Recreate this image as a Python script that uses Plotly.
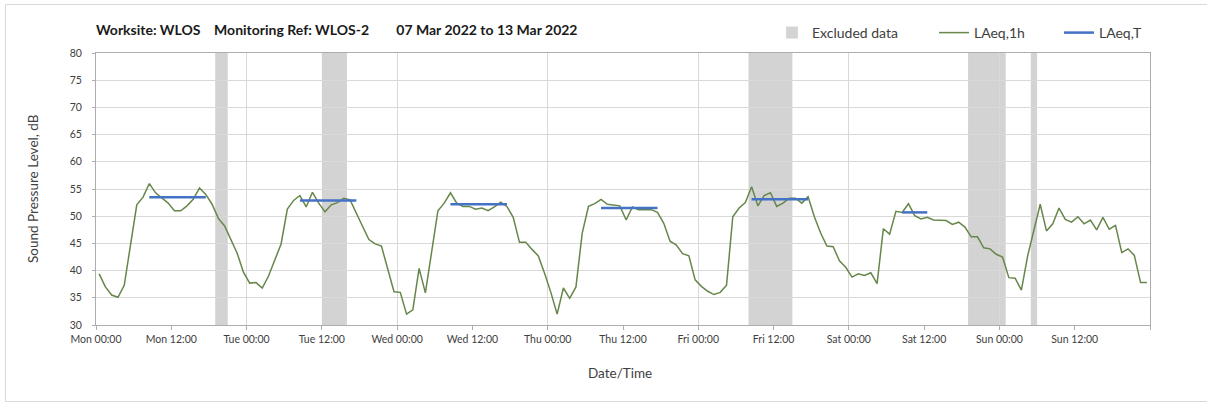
import pandas as pd
import plotly.graph_objects as go

# ---- hourly LAeq,1h values (plotted at the half hour) ----
start_time = "2022-03-07 00:30"
mon = [39.4, 37.0, 35.5, 35.1, 37.3, 45.0, 52.1, 53.5, 56.0, 54.3, 53.3, 52.4,
       51.0, 51.0, 51.9, 53.1, 55.2, 54.0, 52.2, 49.6, 48.2, 45.8, 43.2, 39.7]
tue = [37.7, 37.8, 36.8, 39.0, 41.9, 44.9, 51.3, 52.9, 53.8, 51.7, 54.4, 52.4,
       50.8, 52.1, 52.5, 53.3, 53.0, 50.7, 48.1, 45.7, 44.9, 44.5, 40.4, 36.1]
wed = [36.0, 32.0, 32.8, 40.4, 35.9, 43.5, 51.0, 52.4, 54.3, 52.4, 51.8, 51.8,
       51.3, 51.5, 51.0, 51.7, 52.6, 51.8, 49.8, 45.2, 45.2, 43.9, 42.7, 39.5]
thu = [36.0, 32.0, 36.8, 34.9, 37.0, 46.9, 51.8, 52.3, 53.1, 52.2, 52.0, 51.9,
       49.3, 51.7, 51.2, 51.2, 51.2, 50.7, 48.7, 45.4, 44.7, 43.1, 42.7, 38.3]
fri = [37.1, 36.2, 35.6, 36.0, 37.3, 49.9, 51.5, 52.5, 55.4, 51.9, 53.8, 54.3,
       51.8, 52.4, 53.3, 53.3, 52.4, 53.6, 49.9, 46.9, 44.5, 44.4, 41.8, 40.6]
sat = [38.8, 39.4, 39.1, 39.6, 37.6, 47.7, 46.7, 50.9, 50.7, 52.3, 50.1, 49.5,
       49.8, 49.3, 49.2, 49.2, 48.5, 48.9, 48.0, 46.2, 46.2, 44.2, 44.0, 43.0]
sun = [42.5, 38.7, 38.6, 36.4, 42.7, 47.4, 52.2, 47.3, 48.6, 51.5, 49.4, 48.9,
       49.9, 48.6, 49.3, 47.5, 49.8, 47.6, 48.3, 43.3, 44.0, 42.8, 37.8, 37.8]

# ---- LAeq,T (period averages) ----
laeqT_start = ["2022-03-07 08:30", "2022-03-08 08:30", "2022-03-09 08:30",
               "2022-03-10 08:30", "2022-03-11 08:30", "2022-03-12 08:30"]
laeqT_end = ["2022-03-07 17:30", "2022-03-08 17:30", "2022-03-09 17:30",
             "2022-03-10 17:30", "2022-03-11 17:30", "2022-03-12 12:30"]
laeqT_values = [53.5, 52.9, 52.2, 51.5, 53.1, 50.7]

# ---- Excluded data periods ----
excl_start = ["2022-03-07 19:00", "2022-03-08 12:00", "2022-03-11 08:00",
              "2022-03-12 19:00", "2022-03-13 05:00"]
excl_end = ["2022-03-07 21:00", "2022-03-08 16:00", "2022-03-11 15:00",
            "2022-03-13 01:00", "2022-03-13 06:00"]

# ---- axis ticks ----
tick_vals = pd.date_range("2022-03-07 00:00", "2022-03-14 00:00", freq="12h")
tick_text = ["Mon 00:00", "Mon 12:00", "Tue 00:00", "Tue 12:00", "Wed 00:00",
             "Wed 12:00", "Thu 00:00", "Thu 12:00", "Fri 00:00", "Fri 12:00",
             "Sat 00:00", "Sat 12:00", "Sun 00:00", "Sun 12:00", ""]
y_min, y_max, y_step = 30, 80, 5

NB = "\u00a0"
title_text = ("<b>Worksite: WLOS" + NB * 4 + "Monitoring Ref: WLOS-2" + NB * 8 +
              "07 Mar 2022 to 13 Mar 2022</b>")

FONT = "Lato"
GREEN = "#66864A"
BLUE = "#4472C4"
BAND = "#D3D3D3"
GRID = "#D9D9D9"
AXIS = "#ADADAD"

# plot-area geometry in pixels
L, R, T, B, W, H = 96, 1150, 53, 325, 1207, 403
PW, PH = R - L, B - T


def px(xp):
    return (xp - L) / PW


def py(yp):
    return (B - yp) / PH


laeq1h = mon + tue + wed + thu + fri + sat + sun
times = pd.date_range(start_time, periods=len(laeq1h), freq="h")

fig = go.Figure()

# legend-only entry for excluded data
fig.add_trace(go.Bar(x=[None], y=[None], name="Excluded data",
                     marker=dict(color=BAND), showlegend=True, legend="legend"))

fig.add_trace(go.Scatter(x=times, y=laeq1h, mode="lines", name="LAeq,1h",
                         line=dict(color=GREEN, width=1.5), legend="legend2"))

tx, ty = [], []
for s, e, v in zip(laeqT_start, laeqT_end, laeqT_values):
    tx += [s, e, None]
    ty += [v, v, None]
fig.add_trace(go.Scatter(x=tx, y=ty, mode="lines", name="LAeq,T",
                         line=dict(color=BLUE, width=2.5), legend="legend3"))

for s, e in zip(excl_start, excl_end):
    fig.add_shape(type="rect", xref="x", yref="y", x0=s, x1=e,
                  y0=y_min, y1=y_max, fillcolor=BAND, line=dict(width=0),
                  layer="below")

# outer chart border
fig.add_shape(type="rect", xref="paper", yref="paper",
              x0=px(5.5), x1=px(1215), y0=py(401.5), y1=py(4.5),
              line=dict(color="#D9D9D9", width=1), fillcolor="rgba(0,0,0,0)",
              layer="below")

leg_common = dict(orientation="h", xanchor="left", yanchor="middle",
                  y=py(33), font=dict(family=FONT, size=14, color="#404040"),
                  bgcolor="rgba(0,0,0,0)")

fig.update_layout(
    width=W, height=H,
    margin=dict(l=L, r=W - R, t=T, b=H - B, autoexpand=False),
    paper_bgcolor="white", plot_bgcolor="white",
    font=dict(family=FONT, color="#404040"),
    title=dict(text=title_text, x=0, xref="paper", xanchor="left",
               y=1 - 30 / H, yref="container", yanchor="middle",
               font=dict(family=FONT, size=14, color="#1a1a1a")),
    legend=dict(x=px(772), **leg_common),
    legend2=dict(x=px(934), **leg_common),
    legend3=dict(x=px(1059), **leg_common),
    showlegend=True,
    bargap=0,
)

fig.update_xaxes(
    type="date",
    range=[tick_vals[0], tick_vals[-1]],
    tickvals=tick_vals, ticktext=tick_text,
    ticks="outside", ticklen=4, tickcolor=AXIS,
    showgrid=False,
    minor=dict(dtick=86400000, tick0="2022-03-07", showgrid=True,
               gridcolor=GRID, gridwidth=1, ticks=""),
    showline=True, linecolor=AXIS, linewidth=1, mirror=True,
    tickfont=dict(family=FONT, size=10.5, color="#404040"),
    zeroline=False, automargin=False,
)
fig.update_yaxes(
    range=[y_min, y_max], dtick=y_step, tick0=y_min,
    ticks="outside", ticklen=3, tickcolor=AXIS,
    showgrid=True, gridcolor=GRID, gridwidth=1,
    showline=True, linecolor=AXIS, linewidth=1, mirror=True,
    tickfont=dict(family=FONT, size=10.5, color="#404040"),
    ticklabelstandoff=8,
    zeroline=False, automargin=False,
)

fig.add_annotation(text="Sound Pressure Level, dB", xref="paper", yref="paper",
                   x=px(33), y=0.5, textangle=-90, showarrow=False,
                   xanchor="center", yanchor="middle",
                   font=dict(family=FONT, size=13.5, color="#404040"))
fig.add_annotation(text="Date/Time", xref="paper", yref="paper",
                   x=px(620), y=py(373), showarrow=False,
                   xanchor="center", yanchor="middle",
                   font=dict(family=FONT, size=13.5, color="#404040"))

fig.write_html("out.html",
               config={"displayModeBar": False},
               post_script="document.body.style.margin='0';"
                           "document.body.style.padding='0';")
